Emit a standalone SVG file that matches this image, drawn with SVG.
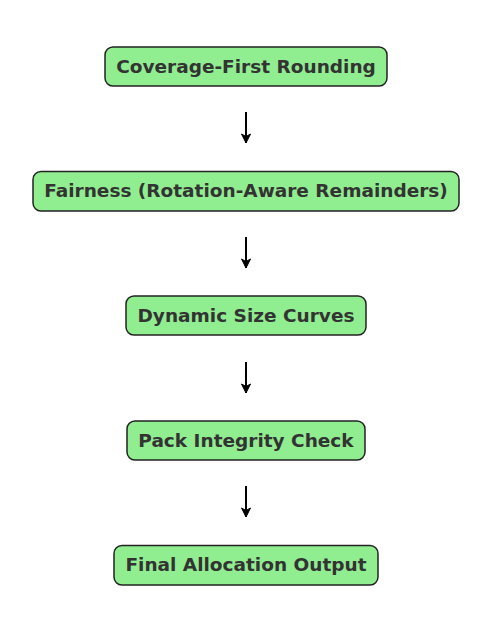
<svg xmlns="http://www.w3.org/2000/svg" width="496" height="628" viewBox="0 0 496 628">
<defs>
<style>
.box{fill:#90EE90;stroke:#222;stroke-width:1.5}
.lbl{font-family:"DejaVu Sans",sans-serif;font-weight:bold;font-size:18.5px;fill:#333;text-anchor:middle}
.edge{stroke:#000;stroke-width:2;fill:none;marker-end:url(#ah)}
</style>
<marker id="ah" markerWidth="12" markerHeight="12" refX="10" refY="6" orient="auto" markerUnits="userSpaceOnUse"><path d="M1,1.5 L10,6 L1,10.5 L3.5,6 Z" fill="#000" stroke="#000" stroke-width="1"/></marker>
</defs>
<rect width="496" height="628" fill="#fff"/>
<g id="connectors">
<line class="edge" x1="246" y1="112" x2="246" y2="143"/>
<line class="edge" x1="246" y1="237" x2="246" y2="268"/>
<line class="edge" x1="246" y1="362" x2="246" y2="393"/>
<line class="edge" x1="246" y1="486" x2="246" y2="517"/>
</g>
<g id="n1"><rect class="box" x="105" y="47" width="282" height="39" rx="8"/><text class="lbl" x="246" y="72.5">Coverage-First Rounding</text></g>
<g id="n2"><rect class="box" x="33" y="171.5" width="426" height="39.5" rx="8"/><text class="lbl" x="246" y="197">Fairness (Rotation-Aware Remainders)</text></g>
<g id="n3"><rect class="box" x="126" y="296" width="240" height="39" rx="8"/><text class="lbl" x="246" y="321.5">Dynamic Size Curves</text></g>
<g id="n4"><rect class="box" x="127" y="421" width="238" height="39" rx="8"/><text class="lbl" x="246" y="446.5">Pack Integrity Check</text></g>
<g id="n5"><rect class="box" x="114" y="545.5" width="264" height="39.5" rx="8"/><text class="lbl" x="246" y="571">Final Allocation Output</text></g>
</svg>
